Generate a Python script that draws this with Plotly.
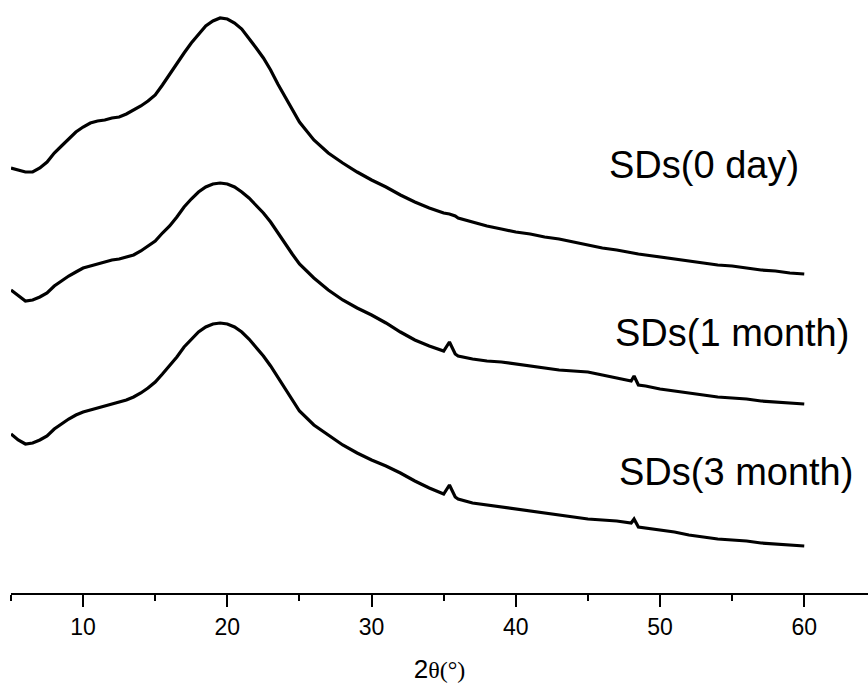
import plotly.graph_objects as go

# 2theta (degrees)
two_theta = [5, 5.5, 6, 6.5, 7, 7.5, 8, 8.5, 9, 9.5,
             10, 10.5, 11, 11.5, 12, 12.5, 13, 13.5, 14, 14.5,
             15, 15.5, 16, 16.5, 17, 17.5, 18, 18.5, 19, 19.5,
             20, 20.5, 21, 21.5, 22, 22.5, 23, 23.5, 24, 24.5,
             25, 26, 27, 28, 29, 30, 31, 32, 33, 34, 35,
             35.4, 35.8,
             36, 37, 38, 39, 40, 41, 42, 43, 44, 45, 46, 47, 48,
             48.2, 48.5,
             49, 50, 51, 52, 53, 54, 55, 56, 57, 58, 59, 60]

# Intensity (a.u., stacked with offsets)
sd_0_day = [425, 423, 421, 421, 425, 431, 440, 447, 454, 461,
            466, 470, 472, 473, 475, 476, 479, 483, 487, 492,
            498, 508, 519, 529, 540, 550, 559, 567, 572, 575,
            574, 570, 564, 555, 545, 535, 523, 509, 496, 483,
            471, 453, 440, 430, 421, 413, 406, 398, 391, 385, 380,
            379, 377,
            375, 371, 367, 364, 361, 359, 356, 354, 351, 348, 345, 343, 340,
            340, 339,
            338, 336, 334, 332, 330, 328, 327, 325, 323, 322, 320, 319]

sd_1_month = [303, 297, 292, 293, 296, 300, 307, 312, 317, 321,
              325, 327, 329, 331, 333, 334, 336, 338, 342, 347,
              352, 360, 367, 376, 386, 394, 401, 406, 409, 410,
              409, 406, 401, 395, 388, 380, 371, 360, 349, 339,
              329, 315, 303, 293, 285, 278, 270, 261, 253, 247, 242,
              251, 239,
              237, 234, 232, 231, 229, 227, 225, 223, 222, 221, 218, 215, 212,
              217, 208,
              207, 204, 202, 200, 198, 196, 195, 194, 192, 191, 190, 189]

sd_3_month = [159, 153, 149, 150, 153, 157, 164, 169, 174, 178,
              181, 183, 185, 187, 189, 191, 193, 196, 200, 205,
              211, 219, 227, 236, 246, 254, 261, 266, 269, 270,
              269, 266, 261, 254, 246, 237, 227, 216, 204, 193,
              182, 168, 158, 148, 140, 133, 127, 120, 112, 105, 99,
              108, 96,
              94, 90, 88, 86, 84, 82, 80, 78, 76, 74, 73, 72, 70,
              74, 66,
              65, 63, 61, 58, 56, 54, 53, 52, 50, 49, 48, 47]

series_names = ["SDs(0 day)", "SDs(1 month)", "SDs(3 month)"]
label_x = [46.3, 46.75, 47.0]
label_y = [428, 260, 121]

fig = go.Figure()
for name, ys in zip(series_names, [sd_0_day, sd_1_month, sd_3_month]):
    fig.add_trace(go.Scatter(x=two_theta, y=ys, mode="lines", name=name,
                             line=dict(color="black", width=3.2),
                             showlegend=False))

for name, lx, ly in zip(series_names, label_x, label_y):
    fig.add_annotation(x=lx, y=ly, xref="x", yref="y", text=name,
                       showarrow=False, xanchor="left", yanchor="middle",
                       font=dict(family="Liberation Sans, Arial", size=38, color="black"))

fig.update_layout(
    width=868, height=686,
    margin=dict(l=11, r=0, t=0, b=93),
    paper_bgcolor="white", plot_bgcolor="white",
    xaxis=dict(
        range=[5, 64.42], showgrid=False, zeroline=False,
        showline=True, linecolor="black", linewidth=2,
        ticks="outside", ticklen=12, tickwidth=2, tickcolor="black",
        tick0=0, dtick=10,
        minor=dict(ticks="outside", ticklen=6, tickwidth=2, tickcolor="black", tick0=0, dtick=5),
        tickfont=dict(family="Liberation Sans, Arial", size=23, color="black"),
        title=dict(text="2<span style='font-family:\"Liberation Serif\"; font-size:24px'>θ(°)</span>",
                   font=dict(family="Liberation Sans, Arial", size=26, color="black"),
                   standoff=21),
    ),
    yaxis=dict(range=[0, 593], visible=False, showgrid=False, zeroline=False),
)

fig.write_html("out.html", config={"displayModeBar": False},
               post_script="document.body.style.margin='0px';document.body.style.overflow='hidden';")
